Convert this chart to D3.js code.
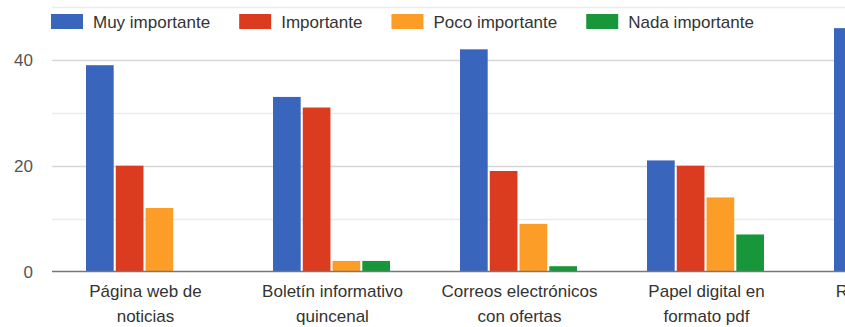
<!DOCTYPE html>
<html>
<head>
<meta charset="utf-8">
<script src="https://cdn.jsdelivr.net/npm/d3@7"></script>
<style>
  html, body { margin: 0; padding: 0; background: #fff; }
  svg { display: block; font-family: "Liberation Sans", Arial, sans-serif; }
</style>
</head>
<body>
<svg id="chart" width="845" height="327"></svg>
<script>
// Survey answers: how important each communication channel is.
const categories = [
  "Página web de noticias",
  "Boletín informativo quincenal",
  "Correos electrónicos con ofertas",
  "Papel digital en formato pdf",
  "Redes sociales"
];
const seriesNames = ["Muy importante", "Importante", "Poco importante", "Nada importante"];
const muyImportante  = [39, 33, 42, 21, 46];
const importante     = [20, 31, 19, 20, null];
const pocoImportante = [12,  2,  9, 14, null];
const nadaImportante = [ 0,  2,  1,  7, null];
const seriesColors = ["#3a65bd", "#db3b1f", "#fb9d26", "#17963a"];
const majorTicks = [0, 20, 40];
const minorTicks = [10, 30, 50];

const seriesValues = [muyImportante, importante, pocoImportante, nadaImportante];
const rows = categories.map((c, i) => ({
  category: c,
  values: seriesNames.map((s, k) => ({ series: s, value: seriesValues[k][i] }))
}));

const svg = d3.select("#chart");
const W = 845;
const plotLeft = 52;
const groupStep = 187;
const baseY = 271.5;
const pxPerUnit = 5.29;

const x = d3.scaleBand()
  .domain(categories)
  .range([plotLeft, plotLeft + groupStep * categories.length])
  .padding(0);

const xInner = d3.scaleBand()
  .domain(seriesNames)
  .range([34, 151])
  .paddingInner(0.07)
  .paddingOuter(0);

const y = d3.scaleLinear()
  .domain([0, 60])
  .range([baseY, baseY - 60 * pxPerUnit]);

const color = d3.scaleOrdinal().domain(seriesNames).range(seriesColors);

// Gridlines
svg.append("g").selectAll("line.minor")
  .data(minorTicks).join("line")
  .attr("x1", plotLeft).attr("x2", W)
  .attr("y1", d => Math.round(y(d)) + 0.5).attr("y2", d => Math.round(y(d)) + 0.5)
  .attr("stroke", "#ececec").attr("stroke-width", 1.5);

svg.append("g").selectAll("line.major")
  .data(majorTicks.filter(d => d !== 0)).join("line")
  .attr("x1", plotLeft).attr("x2", W)
  .attr("y1", d => Math.round(y(d)) + 0.5).attr("y2", d => Math.round(y(d)) + 0.5)
  .attr("stroke", "#d6d6d6").attr("stroke-width", 1.5);

// Y tick labels
svg.append("g").selectAll("text")
  .data(majorTicks).join("text")
  .attr("x", 33)
  .attr("y", d => y(d))
  .attr("dy", "0.36em")
  .attr("text-anchor", "end")
  .attr("font-size", 17)
  .attr("fill", "#555")
  .text(d => d);

// Bars
const groups = svg.append("g").selectAll("g")
  .data(rows).join("g")
  .attr("transform", d => `translate(${x(d.category)},0)`);

groups.selectAll("rect")
  .data(d => d.values.filter(v => v.value != null))
  .join("rect")
  .attr("x", d => xInner(d.series))
  .attr("width", xInner.bandwidth())
  .attr("y", d => y(d.value))
  .attr("height", d => y(0) - y(d.value))
  .attr("fill", d => color(d.series));

// Baseline
svg.append("line")
  .attr("x1", plotLeft).attr("x2", W)
  .attr("y1", y(0)).attr("y2", y(0))
  .attr("stroke", "#777").attr("stroke-width", 1.6);

// Category labels, wrapped onto two lines
const maxLabelWidth = 165;
const labels = svg.append("g").selectAll("text")
  .data(categories).join("text")
  .attr("text-anchor", "middle")
  .attr("font-size", 17)
  .attr("fill", "#333")
  .attr("x", d => x(d) + x.bandwidth() / 2)
  .attr("y", 297);

labels.each(function (d) {
  const t = d3.select(this);
  const words = d.split(" ");
  const lines = [];
  let current = [];
  const probe = t.append("tspan");
  words.forEach(w => {
    const trial = current.concat(w).join(" ");
    probe.text(trial);
    if (probe.node().getComputedTextLength() > maxLabelWidth && current.length) {
      lines.push(current.join(" "));
      current = [w];
    } else {
      current.push(w);
    }
  });
  lines.push(current.join(" "));
  probe.remove();
  lines.forEach((line, i) => {
    t.append("tspan")
      .attr("x", x(d) + x.bandwidth() / 2)
      .attr("dy", i === 0 ? 0 : 24.5)
      .text(line);
  });
});

// Legend
const legend = svg.append("g");
let lx = 51;
seriesNames.forEach(name => {
  legend.append("rect")
    .attr("x", lx).attr("y", 14)
    .attr("width", 32).attr("height", 15)
    .attr("fill", color(name));
  const label = legend.append("text")
    .attr("x", lx + 42).attr("y", 21.5)
    .attr("dy", "0.36em")
    .attr("font-size", 17)
    .attr("fill", "#333")
    .text(name);
  lx += 42 + label.node().getComputedTextLength() + 29;
});
</script>
</body>
</html>
